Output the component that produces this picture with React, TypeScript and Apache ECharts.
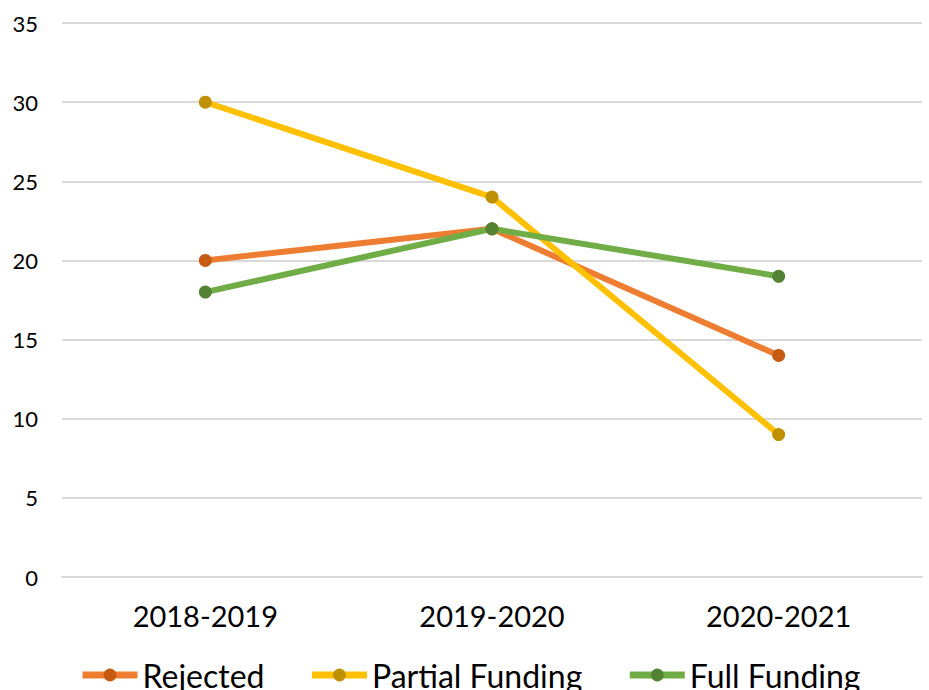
import React, { useEffect, useRef } from "react";
import * as echarts from "echarts";

const categories = ["2018-2019", "2019-2020", "2020-2021"];
const rejected = [20, 22, 14];
const partialFunding = [30, 24, 9];
const fullFunding = [18, 22, 19];
const seriesNames = ["Rejected", "Partial Funding", "Full Funding"];

export default function App() {
  const ref = useRef<HTMLDivElement>(null);
  useEffect(() => {
    const chart = echarts.init(ref.current!, null, { renderer: "svg" });
    const mk = (name: string, data: number[], line: string, marker: string) => ({
      name,
      type: "line",
      data,
      symbol: "circle",
      symbolSize: 13,
      lineStyle: { color: line, width: 6 },
      itemStyle: { color: marker, borderWidth: 0 },
      emphasis: { disabled: true },
    });
    chart.setOption({
      animation: false,
      textStyle: { fontFamily: "Lato" },
      grid: { left: 62, right: 7, top: 23, bottom: 113 },
      legend: {
        data: seriesNames,
        bottom: -6,
        left: 74,
        itemWidth: 55,
        itemHeight: 16,
        itemGap: 44,
        lineStyle: { width: 7 },
        textStyle: { fontSize: 32, color: "#000", fontFamily: "Lato" },
      },
      xAxis: {
        type: "category",
        data: categories,
        boundaryGap: true,
        axisLine: { lineStyle: { color: "#d9d9d9", width: 2 } },
        axisTick: { show: false },
        axisLabel: { fontSize: 29, color: "#000", margin: 24, fontFamily: "Lato" },
      },
      yAxis: {
        type: "value",
        min: 0,
        max: 35,
        interval: 5,
        axisLine: { show: false },
        axisTick: { show: false },
        splitLine: { lineStyle: { color: "#d9d9d9", width: 2 } },
        axisLabel: { fontSize: 22, color: "#000", margin: 24, fontFamily: "Lato" },
      },
      series: [
        mk(seriesNames[0], rejected, "#ED7D31", "#C55A11"),
        mk(seriesNames[1], partialFunding, "#FFC000", "#BF9000"),
        mk(seriesNames[2], fullFunding, "#70AD47", "#548235"),
      ],
    });
    return () => chart.dispose();
  }, []);
  return <div ref={ref} style={{ width: 929, height: 690, position: "absolute", left: 0, top: 0 }} />;
}
